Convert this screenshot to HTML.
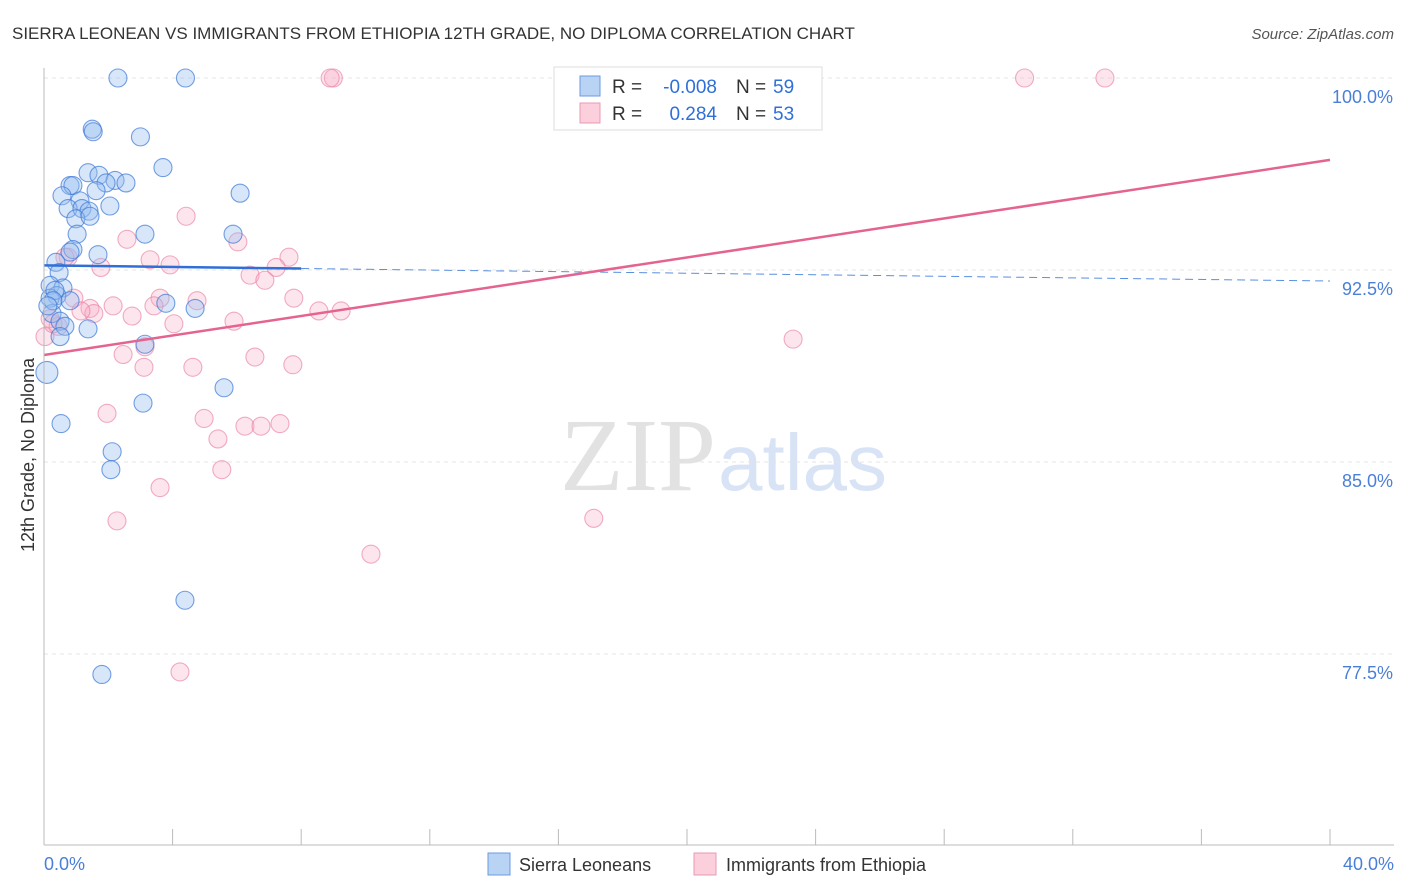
<!DOCTYPE html>
<html><head><meta charset="utf-8"><style>
body{margin:0;background:#fff;font-family:"Liberation Sans",sans-serif;}
svg{display:block}
</style></head><body>
<svg width="1406" height="892" id="chart">
<text x="12" y="39" font-size="17" fill="#333">SIERRA LEONEAN VS IMMIGRANTS FROM ETHIOPIA 12TH GRADE, NO DIPLOMA CORRELATION CHART</text>
<text x="1394" y="39" font-size="15" fill="#555" font-style="italic" text-anchor="end">Source: ZipAtlas.com</text>
<text x="716" y="490" font-size="104" fill="#e2e2e2" text-anchor="end" font-family="Liberation Serif">ZIP</text>
<text x="718" y="490" font-size="80" fill="#d8e4f6">atlas</text>
<text transform="translate(34,455) rotate(-90)" font-size="18" fill="#333" text-anchor="middle">12th Grade, No Diploma</text>
<g id="grid"></g><g id="pts"></g><g id="lines"></g>
<line x1="44" y1="68" x2="44" y2="845" stroke="#bbb"/>
<line x1="44" y1="845" x2="1394" y2="845" stroke="#bbb"/>
<text x="44" y="870" font-size="18" fill="#4a7fd8">0.0%</text>
<text x="1394" y="870" font-size="18" fill="#4a7fd8" text-anchor="end">40.0%</text>
<g>
<rect x="554" y="67" width="268" height="63" fill="#fff" stroke="#ddd"/>
<rect x="580" y="76" width="20" height="20" fill="#b9d3f5" stroke="#6a9be0"/>
<rect x="580" y="103" width="20" height="20" fill="#fccfdc" stroke="#eb9ab3"/>
<text x="612" y="93" font-size="19" fill="#333">R =</text>
<text x="717" y="93" font-size="19" fill="#2f6fd8" text-anchor="end">-0.008</text>
<text x="736" y="93" font-size="19" fill="#333">N =</text>
<text x="773" y="93" font-size="19" fill="#2f6fd8">59</text>
<text x="612" y="120" font-size="19" fill="#333">R =</text>
<text x="717" y="120" font-size="19" fill="#2f6fd8" text-anchor="end">0.284</text>
<text x="736" y="120" font-size="19" fill="#333">N =</text>
<text x="773" y="120" font-size="19" fill="#2f6fd8">53</text>
</g>
<g>
<rect x="488" y="853" width="22" height="22" fill="#b9d3f5" stroke="#6a9be0"/>
<text x="519" y="871" font-size="18" fill="#333">Sierra Leoneans</text>
<rect x="694" y="853" width="22" height="22" fill="#fccfdc" stroke="#eb9ab3"/>
<text x="726" y="871" font-size="18" fill="#333">Immigrants from Ethiopia</text>
</g>
</svg>
<script>
const yTicks=[100,92.5,85,77.5];
const xTicks=[0,4,8,12,16,20,24,28,32,36,40];
const blueX=[2.3,4.4,1.5,1.53,3.0,3.7,1.37,1.71,2.21,2.55,1.93,0.81,0.9,6.1,0.56,1.62,1.12,2.05,0.75,1.18,1.4,0.99,1.43,3.14,5.88,1.03,0.9,0.81,1.68,0.37,0.47,0.19,0.59,0.4,0.19,0.25,0.5,0.65,1.37,4.7,3.79,0.5,3.14,0.09,5.6,3.08,0.53,2.12,2.08,4.384,1.8,0.34,0.28,0.81,0.12];
const blueY=[100,100,98.0,97.9,97.7,96.5,96.3,96.2,96.0,95.9,95.9,95.8,95.8,95.5,95.4,95.6,95.2,95.0,94.9,94.9,94.8,94.5,94.6,93.9,93.9,93.9,93.3,93.2,93.1,92.8,92.4,91.9,91.8,91.5,91.4,90.8,90.5,90.3,90.2,91.0,91.2,89.9,89.6,88.5,87.9,87.3,86.5,85.4,84.7,79.6,76.7,91.7,91.3,91.3,91.1];
const pinkX=[9.0,8.9,30.5,33.0,4.42,2.58,6.03,0.75,3.3,3.92,1.77,7.62,7.22,6.41,6.87,0.93,3.61,4.76,2.15,3.42,7.77,1.43,1.55,2.74,1.15,8.55,9.24,5.91,4.04,0.19,0.44,0.03,23.3,3.14,2.46,6.56,3.11,4.63,7.74,1.96,4.98,6.25,6.75,7.34,5.41,5.53,3.61,2.27,17.1,10.17,4.23,0.65,0.28];
const pinkY=[100,100,100,100,94.6,93.7,93.6,93.0,92.9,92.7,92.6,93.0,92.6,92.3,92.1,91.4,91.4,91.3,91.1,91.1,91.4,91.0,90.8,90.7,90.9,90.9,90.9,90.5,90.4,90.6,90.3,89.9,89.8,89.5,89.2,89.1,88.7,88.7,88.8,86.9,86.7,86.4,86.4,86.5,85.9,84.7,84.0,82.7,82.8,81.4,76.8,93.0,90.4];
const blueLine=[92.68,92.07];
const pinkLine=[89.18,96.8];
const NS="http://www.w3.org/2000/svg";
const X=v=>44+v/40*1286, Y=v=>78+(100-v)/7.5*192;
function mk(t,a,p){const e=document.createElementNS(NS,t);for(const k in a)e.setAttribute(k,a[k]);p.appendChild(e);return e;}
const g=document.getElementById('grid'),pg=document.getElementById('pts'),lg=document.getElementById('lines');
yTicks.forEach(v=>{
 const l=mk('line',{x1:44,x2:1394,y1:Y(v),y2:Y(v),stroke:'#e4e4e4','stroke-dasharray':'4,4'},g);
 
 
 const t=mk('text',{x:1393,y:Y(v)+25,'font-size':18,fill:'#4a7fd8','text-anchor':'end'},g);
 t.textContent=v.toFixed(1)+'%';
 
 
});
xTicks.forEach(v=>{
 const l=mk('line',{x1:X(v),x2:X(v),y1:829,y2:845,stroke:'#bbb'},g);
 
 
});
pinkX.forEach((x,i)=>{
 const c=mk('circle',{cx:X(x),cy:Y(pinkY[i]),r:9,fill:'rgba(247,170,195,0.3)',stroke:'rgba(232,120,155,0.6)','stroke-width':1.1},pg);
 
 
});
blueX.forEach((x,i)=>{
 const c=mk('circle',{cx:X(x),cy:Y(blueY[i]),r:i==43?11:9,fill:'rgba(150,190,240,0.38)',stroke:'rgba(60,120,215,0.7)','stroke-width':1.1},pg);
 
 
});
const bs=(blueLine[1]-blueLine[0])/40;
let l=mk('line',{x1:X(0),y1:Y(blueLine[0]),x2:X(8),y2:Y(blueLine[0]+bs*8),stroke:'#2f6fd8','stroke-width':2.5},lg);


l=mk('line',{x1:X(8),y1:Y(blueLine[0]+bs*8),x2:X(40),y2:Y(blueLine[1]),stroke:'#5a8fe0','stroke-width':1,'stroke-dasharray':'8,5'},lg);


l=mk('line',{x1:X(0),y1:Y(pinkLine[0]),x2:X(40),y2:Y(pinkLine[1]),stroke:'#e5638f','stroke-width':2.5},lg);


</script>
</body></html>
